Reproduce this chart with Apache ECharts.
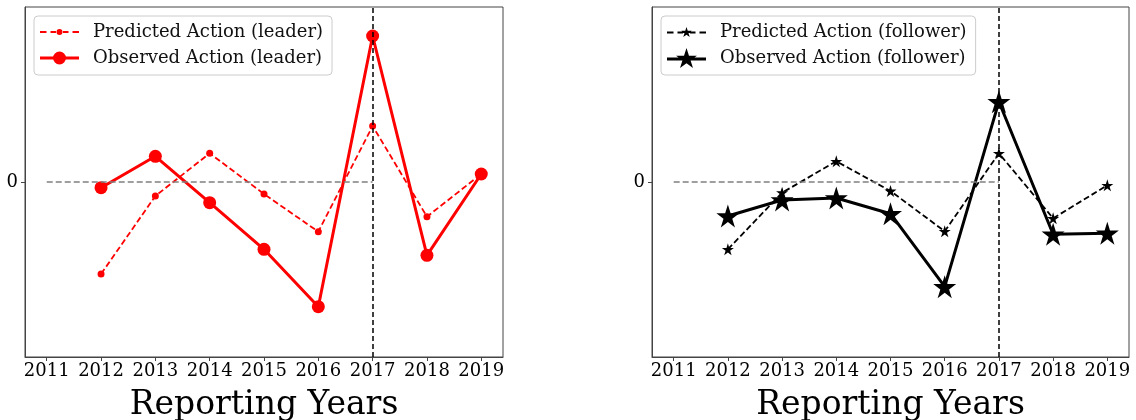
<!DOCTYPE html>
<html>
<head>
<meta charset="utf-8">
<script src="https://cdn.jsdelivr.net/npm/echarts@6/dist/echarts.min.js"></script>
<style>
html,body{margin:0;padding:0;background:#fff;}
#chart{width:1136px;height:420px;}
</style>
</head>
<body>
<div id="chart"></div>
<script>
const years = [2012, 2013, 2014, 2015, 2016, 2017, 2018, 2019];
const xTicks = [2011, 2012, 2013, 2014, 2015, 2016, 2017, 2018, 2019];
const yTicks = [0];
const leaderPredicted = [-9.2, -1.4, 2.87, -1.2, -4.97, 5.6, -3.47, 0.8];
const leaderObserved = [-0.57, 2.57, -2.07, -6.73, -12.47, 14.6, -7.33, 0.8];
const followerPredicted = [-6.73, -1.07, 2.07, -0.9, -4.93, 2.87, -3.63, -0.33];
const followerObserved = [-3.4, -1.8, -1.6, -3.17, -10.47, 8.03, -5.23, -5.13];
const zeroLineFrom = 2011;
const splitYear = 2017;

const FONT = 'DejaVu Serif';

function starPts(cx, cy, R) {
  const r = R * 0.381966;
  let d = '';
  for (let k = 0; k < 10; k++) {
    const a = (k * 36 - 90) * Math.PI / 180;
    const rr = k % 2 === 0 ? R : r;
    d += (k === 0 ? 'M' : 'L') + (cx + rr * Math.cos(a)).toFixed(2) + ' ' + (cy + rr * Math.sin(a)).toFixed(2) + ' ';
  }
  return d + 'Z ';
}
function circ(cx, cy, r) {
  return 'M' + (cx - r) + ' ' + cy + ' a' + r + ' ' + r + ' 0 1 1 ' + (2 * r) + ' 0 a' + r + ' ' + r + ' 0 1 1 ' + (-2 * r) + ' 0 Z ';
}
function rect(x, y, w, h) {
  return 'M' + x + ' ' + y + ' h' + w + ' v' + h + ' h' + (-w) + ' Z ';
}
function dashes(cy, t) {
  return rect(0, cy - t / 2, 6.5, t) + rect(10.5, cy - t / 2, 5.5, t) + rect(23, cy - t / 2, 5.5, t) + rect(32.5, cy - t / 2, 6.5, t);
}
const STAR = 'path://' + starPts(50, 50, 50);
const iconLeaderPred = 'path://' + dashes(10, 2) + circ(19.5, 10, 3);
const iconLeaderObs = 'path://' + rect(0, 8.5, 39, 3) + circ(19.5, 10, 6.5);
const iconFollowerPred = 'path://' + dashes(10, 2) + starPts(19.5, 10, 5.5);
const iconFollowerObs = 'path://' + rect(0, 8.5, 39, 3) + starPts(19.5, 10, 11);

const pairs = vals => years.map((y, i) => [y, vals[i]]);

function xAxisFor(idx) {
  return {
    type: 'value', gridIndex: idx, min: 2010.6, max: 2019.4,
    name: 'Reporting Years', nameLocation: 'middle', nameGap: 32,
    nameTextStyle: { fontFamily: FONT, fontSize: 33, color: '#000' },
    axisLine: { show: true, onZero: false, lineStyle: { color: '#444', width: 1 } },
    axisTick: { show: true, length: 4, customValues: xTicks, lineStyle: { color: '#444' } },
    axisLabel: { customValues: xTicks, formatter: v => String(Math.round(v)), fontFamily: FONT, fontSize: 18, color: '#000', margin: 5 },
    splitLine: { show: false }
  };
}
function yAxisFor(idx) {
  return {
    type: 'value', gridIndex: idx, min: -17.5, max: 17.5,
    axisLine: { show: true, lineStyle: { color: '#444', width: 1 } },
    axisTick: { show: true, length: 4, customValues: yTicks, lineStyle: { color: '#444' } },
    axisLabel: { customValues: yTicks, formatter: v => String(Math.round(v)), fontFamily: FONT, fontSize: 18, color: '#000', margin: 7 },
    splitLine: { show: false }
  };
}
function refLines() {
  return {
    silent: true, symbol: 'none', animation: false,
    label: { show: false },
    data: [
      [{ coord: [zeroLineFrom, 0], lineStyle: { color: '#808080', type: [6, 3], width: 1.5 } },
       { coord: [splitYear, 0] }],
      { xAxis: splitYear, lineStyle: { color: '#000', type: [5, 3], width: 1.5 } }
    ]
  };
}
function legendFor(left, items) {
  return {
    orient: 'vertical', left: left, top: 16,
    data: items,
    itemWidth: 39, itemHeight: 20, itemGap: 6,
    symbolKeepAspect: true,
    padding: [6, 9, 7, 6],
    borderColor: '#cccccc', borderWidth: 1, borderRadius: 4,
    backgroundColor: 'rgba(255,255,255,0.8)',
    textStyle: { fontFamily: FONT, fontSize: 18, color: '#111', padding: [0, 0, 0, 9], lineHeight: 20 }
  };
}

const chart = echarts.init(document.getElementById('chart'));
chart.setOption({
  animation: false,
  backgroundColor: '#fff',
  grid: [
    { left: 25, top: 7, width: 478, height: 350, show: true, borderColor: '#444', borderWidth: 1, containLabel: false, outerBoundsMode: 'none' },
    { left: 652, top: 7, width: 477, height: 350, show: true, borderColor: '#444', borderWidth: 1, containLabel: false, outerBoundsMode: 'none' }
  ],
  xAxis: [xAxisFor(0), xAxisFor(1)],
  yAxis: [yAxisFor(0), yAxisFor(1)],
  legend: [
    legendFor(34, [
      { name: 'Predicted Action (leader)', icon: iconLeaderPred },
      { name: 'Observed Action (leader)', icon: iconLeaderObs }
    ]),
    legendFor(661, [
      { name: 'Predicted Action (follower)', icon: iconFollowerPred },
      { name: 'Observed Action (follower)', icon: iconFollowerObs }
    ])
  ],
  series: [
    {
      name: 'Predicted Action (leader)', type: 'line', xAxisIndex: 0, yAxisIndex: 0,
      data: pairs(leaderPredicted), symbol: 'circle', symbolSize: 7,
      lineStyle: { color: '#ff0000', width: 1.8, type: [6, 3] },
      itemStyle: { color: '#ff0000' }, z: 3,
      markLine: refLines()
    },
    {
      name: 'Observed Action (leader)', type: 'line', xAxisIndex: 0, yAxisIndex: 0,
      data: pairs(leaderObserved), symbol: 'circle', symbolSize: 13,
      lineStyle: { color: '#ff0000', width: 3 },
      itemStyle: { color: '#ff0000' }, z: 4
    },
    {
      name: 'Predicted Action (follower)', type: 'line', xAxisIndex: 1, yAxisIndex: 1,
      data: pairs(followerPredicted), symbol: STAR, symbolSize: 12,
      lineStyle: { color: '#000', width: 1.8, type: [6, 3] },
      itemStyle: { color: '#000' }, z: 3,
      markLine: refLines()
    },
    {
      name: 'Observed Action (follower)', type: 'line', xAxisIndex: 1, yAxisIndex: 1,
      data: pairs(followerObserved), symbol: STAR, symbolSize: 23,
      lineStyle: { color: '#000', width: 3 },
      itemStyle: { color: '#000' }, z: 4
    }
  ]
});
</script>
</body>
</html>
